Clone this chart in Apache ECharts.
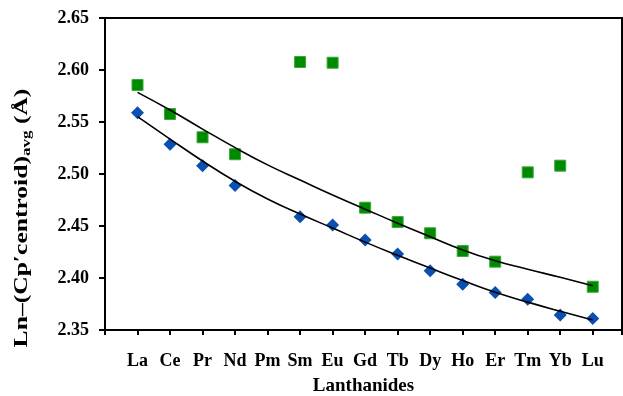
<!DOCTYPE html>
<html>
<head>
<meta charset="utf-8">
<script src="https://cdn.jsdelivr.net/npm/echarts@6/dist/echarts.min.js"></script>
<style>html,body{margin:0;padding:0;background:#fff;}#c{width:623px;height:396px;}</style>
</head>
<body>
<div id="c"></div>
<script>
var categories = ['La','Ce','Pr','Nd','Pm','Sm','Eu','Gd','Tb','Dy','Ho','Er','Tm','Yb','Lu'];
var yTicks = [2.35, 2.40, 2.45, 2.50, 2.55, 2.60, 2.65];
// blue diamonds (Pm has no value)
var diamondValues = [2.559, 2.5285, 2.508, 2.489, null, 2.459, 2.451, 2.4365, 2.423, 2.407, 2.394, 2.386, 2.3795, 2.3645, 2.361];
// green squares
var squareValues = [2.5856, 2.5577, 2.5353, 2.519, null, 2.6077, 2.607, 2.4676, 2.4538, 2.443, 2.426, 2.4157, 2.5016, 2.508, 2.3916];
// trend curves at each lanthanide
var lowerTrend = [2.5551, 2.5336, 2.5125, 2.4930, 2.4760, 2.4615, 2.4480, 2.4345, 2.4218, 2.4095, 2.3975, 2.3862, 2.3768, 2.3680, 2.3596];
var upperTrend = [2.5785, 2.5615, 2.5432, 2.5254, 2.5088, 2.4942, 2.4798, 2.4662, 2.4527, 2.4397, 2.4270, 2.4166, 2.4084, 2.4007, 2.3926];

function pairs(vals){
  var out = [];
  for (var i = 0; i < vals.length; i++) { if (vals[i] !== null) out.push([i + 1, vals[i]]); }
  return out;
}

var font = '"Liberation Serif", "Times New Roman", serif';
var chart = echarts.init(document.getElementById('c'), null, {renderer: 'canvas'});
chart.setOption({
  animation: false,
  backgroundColor: '#fff',
  grid: {left: 105, top: 18, width: 517, height: 312, show: false, containLabel: false, outerBoundsMode: 'none'},
  xAxis: [{
    type: 'value', min: 0, max: 15.9, interval: 1,
    name: 'Lanthanides', nameLocation: 'middle', nameGap: 47,
    nameTextStyle: {fontFamily: font, fontWeight: 'bold', fontSize: 19, color: '#000'},
    axisLine: {show: true, lineStyle: {color: '#000', width: 2}},
    axisTick: {show: true, inside: false, length: 5, lineStyle: {color: '#000', width: 2}},
    splitLine: {show: false},
    axisLabel: {
      margin: 22, fontFamily: font, fontWeight: 'bold', fontSize: 18, color: '#000',
      formatter: function(v){ var i = Math.round(v); return (Math.abs(v - i) < 1e-6 && i >= 1 && i <= categories.length) ? categories[i - 1] : ''; }
    }
  }, {
    type: 'value', position: 'top', min: 0, max: 15.9,
    axisLine: {show: true, onZero: false, lineStyle: {color: '#000', width: 2}},
    axisTick: {show: false}, axisLabel: {show: false}, splitLine: {show: false}
  }],
  yAxis: [{
    type: 'value', min: yTicks[0], max: yTicks[yTicks.length - 1], interval: 0.05,
    axisLine: {show: true, lineStyle: {color: '#000', width: 2}},
    axisTick: {show: true, inside: false, length: 6, lineStyle: {color: '#000', width: 2}},
    splitLine: {show: false},
    axisLabel: {
      margin: 16, fontFamily: font, fontWeight: 'bold', fontSize: 18, color: '#000',
      formatter: function(v){ return v.toFixed(2); }
    }
  }, {
    type: 'value', position: 'right', min: yTicks[0], max: yTicks[yTicks.length - 1],
    axisLine: {show: true, onZero: false, lineStyle: {color: '#000', width: 2}},
    axisTick: {show: false}, axisLabel: {show: false}, splitLine: {show: false}
  }],
  graphic: [{
    type: 'text', x: 22, y: 218, rotation: Math.PI / 2, scaleX: 1.42, scaleY: 1,
    style: {
      text: '{a|Ln–(Cp′centroid)}{s|avg}{a| (Å)}',
      align: 'center', verticalAlign: 'middle',
      rich: {
        a: {fontFamily: font, fontWeight: 'bold', fontSize: 18, fill: '#000', color: '#000'},
        s: {fontFamily: font, fontWeight: 'bold', fontSize: 12, fill: '#000', color: '#000', verticalAlign: 'bottom', padding: [9, 0, 0, 0]}
      }
    }
  }],
  series: [
    {type: 'scatter', data: pairs(diamondValues), symbol: 'diamond', symbolSize: 13,
     itemStyle: {color: '#0a4fb2', opacity: 1}, z: 2},
    {type: 'scatter', data: pairs(squareValues), symbol: 'rect', symbolSize: 11,
     itemStyle: {color: '#008a00', borderColor: '#3aa83a', borderWidth: 1, opacity: 1}, z: 2},
    {type: 'line', data: pairs(lowerTrend), smooth: true, showSymbol: false, symbol: 'none',
     lineStyle: {color: '#000', width: 1.6}, z: 3},
    {type: 'line', data: pairs(upperTrend), smooth: true, showSymbol: false, symbol: 'none',
     lineStyle: {color: '#000', width: 1.6}, z: 3}
  ]
});
</script>
</body>
</html>
